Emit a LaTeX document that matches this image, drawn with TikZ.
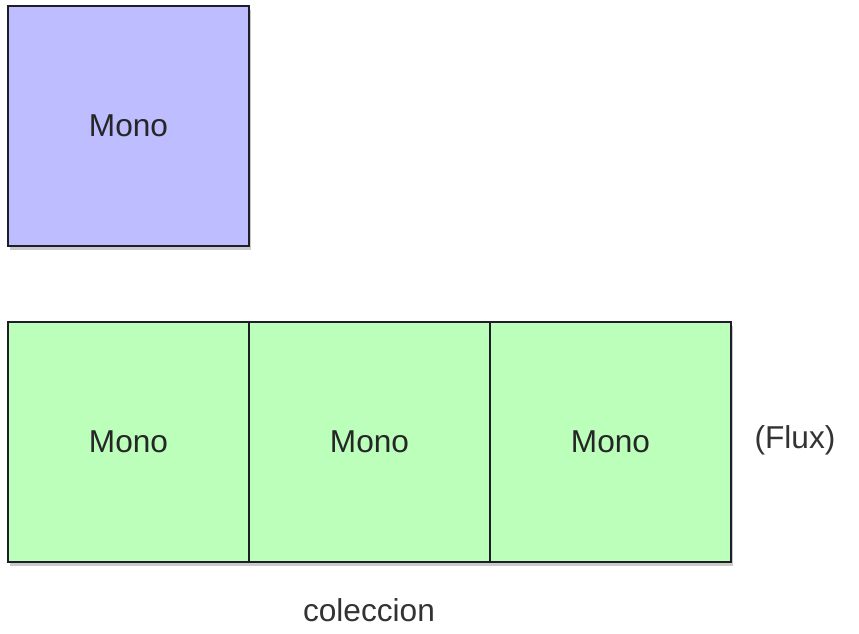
\documentclass[tikz,border=0pt]{standalone}
\usepackage{fontspec}
\setmainfont{Liberation Sans}
\usetikzlibrary{positioning, shadows}
\definecolor{monoblue}{RGB}{189,189,255}
\definecolor{monogreen}{RGB}{187,255,187}
\definecolor{monoline}{RGB}{30,30,40}

\begin{document}
\begin{tikzpicture}[
  cell/.style={rectangle, draw=monoline, line width=0.8pt,
    minimum width=4.82cm, minimum height=4.8cm, outer sep=0pt,
    font=\fontsize{18}{22}\selectfont, text=black!85,
    drop shadow={shadow xshift=1pt, shadow yshift=-2pt,
      opacity=0.35, fill=black!60}},
  note/.style={font=\fontsize{18}{22}\selectfont, text=black!80}
]
\useasboundingbox (0,0) rectangle (17.18,-12.68);

% single value
\node[cell, fill=monoblue] (single) at (2.57,-2.52) {Mono};

% collection row
\node[cell, fill=monogreen] (m1) at (2.57,-8.84) {Mono};
\node[cell, fill=monogreen, right=0cm of m1] (m2) {Mono};
\node[cell, fill=monogreen, right=0cm of m2] (m3) {Mono};

% labels
\node[note] (flux) at (15.9,-8.8) {(Flux)};
\node[note] (coll) at (7.38,-12.2) {coleccion};
\end{tikzpicture}
\end{document}
